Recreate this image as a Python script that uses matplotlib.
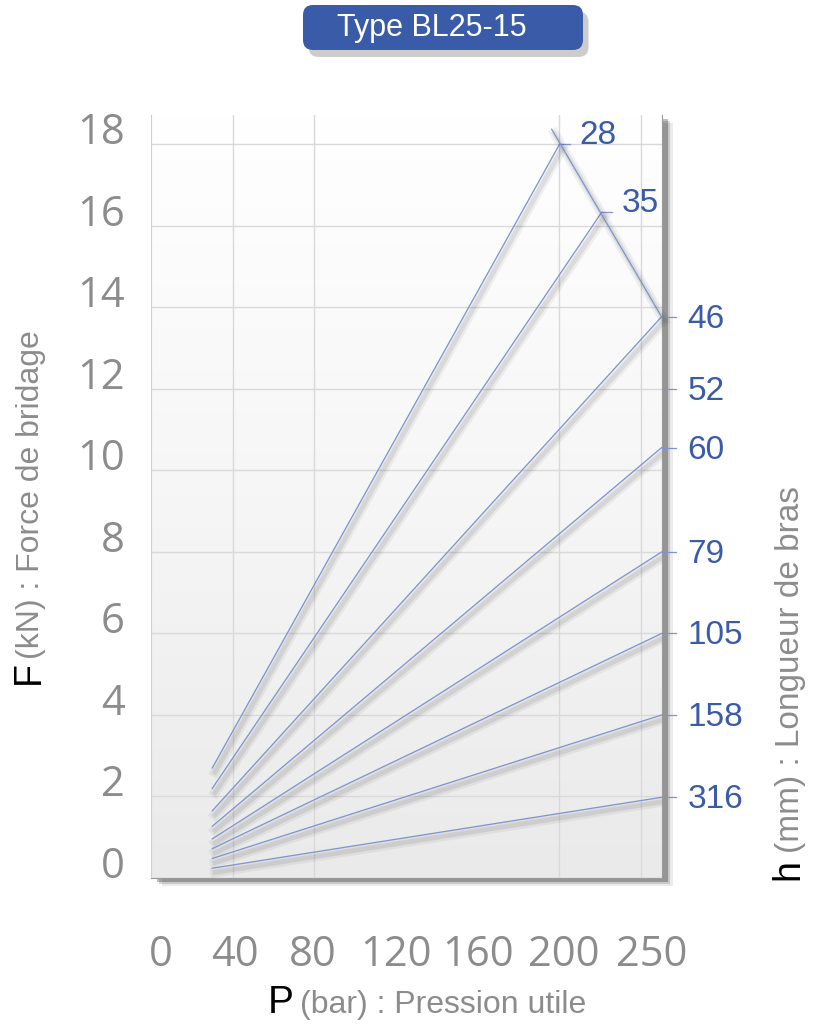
import matplotlib
matplotlib.use('Agg')
import matplotlib.pyplot as plt
import matplotlib.patheffects as pe
import numpy as np
from matplotlib import font_manager
from matplotlib.colors import LinearSegmentedColormap
from matplotlib.patches import FancyBboxPatch

# data
arm_lengths = ['28', '35', '46', '52', '60', '79', '105', '158', '316']
p_start = 30
f_start = [2.70, 2.20, 1.65, None, 1.27, 0.96, 0.72, 0.48, 0.24]
p_end = [200, 220.6, 250, 250, 250, 250, 250, 250, 250]
f_end = [18.0, 16.33, 13.77, 12.0, 10.56, 8.0, 6.0, 4.0, 1.98]
envelope_p = [196.2, 250]
envelope_f = [18.37, 13.77]

x_grid = [40, 80, 120, 160, 200, 240]
y_grid = [2, 4, 6, 8, 10, 12, 14, 16, 18]
xtick_pos = [5, 41, 79, 120, 160, 202, 245]
xtick_labels = ['0', '40', '80', '120', '160', '200', '250']
ytick_vals = [0, 2, 4, 6, 8, 10, 12, 14, 16, 18]

title = 'Type BL25-15'

installed = {f.name for f in font_manager.fontManager.ttflist}
narrow = 'Liberation Sans Narrow' if 'Liberation Sans Narrow' in installed else 'Liberation Sans'
wide = 'Open Sans'

blue = '#3a5ba8'
line_col = '#7f93cf'
grey = '#8c8c8c'

fig = plt.figure(figsize=(8.16, 10.24), dpi=100)
ax = fig.add_axes([151 / 816, 146 / 1024, 511 / 816, 763 / 1024])

# drop shadow of the plot area
ax.patch.set_facecolor('white')
ax.patch.set_path_effects([
    pe.SimplePatchShadow(offset=(8, -6), shadow_rgbFace='#000000', alpha=0.08),
    pe.SimplePatchShadow(offset=(6, -4), shadow_rgbFace='#000000', alpha=0.15),
    pe.SimplePatchShadow(offset=(4, -3), shadow_rgbFace='#000000', alpha=0.25),
    pe.Normal()])

# soft vertical gradient background
cmap = LinearSegmentedColormap.from_list('bg', ['#eaeaea', '#f6f6f6', '#ffffff'])
ax.imshow(np.linspace(0, 1, 256)[:, None], extent=[0, 1, 0, 1], transform=ax.transAxes,
          cmap=cmap, aspect='auto', origin='lower', zorder=0)
ax.set_xlim(0, 250.2)
ax.set_ylim(0, 18.72)

# grid
ax.set_xticks(x_grid, minor=True)
ax.set_yticks(ytick_vals)
ax.grid(which='minor', axis='x', color='#d9d9d9', lw=1)
ax.grid(which='major', axis='y', color='#d9d9d9', lw=1)
ax.set_axisbelow(True)

ax.set_xticks(xtick_pos, xtick_labels)
ax.tick_params(axis='both', which='both', length=0)
ax.tick_params(axis='x', pad=40, labelsize=30, labelcolor=grey)
ax.tick_params(axis='y', pad=19, labelsize=30, labelcolor=grey)
for lab in ax.get_xticklabels() + ax.get_yticklabels():
    lab.set_fontfamily(wide)
for lab in ax.get_yticklabels():
    lab.set_va('baseline')

ax.spines['top'].set_visible(False)
ax.spines['left'].set_color('#cfcfcf')
ax.spines['right'].set_color('#9a9a9a')
ax.spines['bottom'].set_color('#9a9a9a')

shadow = [pe.SimpleLineShadow(offset=(2, -3), shadow_color='k', alpha=0.05, linewidth=7),
          pe.SimpleLineShadow(offset=(2, -3), shadow_color='k', alpha=0.08, linewidth=3.5),
          pe.Normal()]

for name, fs, pe_, fe in zip(arm_lengths, f_start, p_end, f_end):
    if fs is not None:
        ax.plot([p_start, pe_], [fs, fe], color=line_col, lw=0.9, path_effects=shadow, zorder=3)
    inner = pe_ < 250
    stub = 5 if inner else 7.2
    ax.plot([pe_, pe_ + stub], [fe, fe], color=line_col, lw=0.9, clip_on=False, zorder=3)
    dx = 20 if inner else 26
    dy = 0 if inner else -11
    ax.annotate(name, (pe_, fe), xytext=(dx, dy), textcoords='offset pixels',
                ha='left', va='baseline', fontsize=24, color=blue,
                fontfamily=narrow, annotation_clip=False)

ax.plot(envelope_p, envelope_f, color=line_col, lw=0.9, path_effects=shadow, zorder=3, clip_on=False)

# axis titles
H = 1024
W = 816
fig.text(39 / W, 1 - 684 / H, 'F', rotation=90, rotation_mode='anchor', ha='left', va='baseline',
         fontsize=27, color='black', fontfamily=narrow)
fig.text(39 / W, 1 - 659 / H, '(kN) : Force de bridage', rotation=90, rotation_mode='anchor',
         ha='left', va='baseline', fontsize=23, color=grey, fontfamily=narrow)
fig.text(798 / W, 1 - 880 / H, 'h', rotation=90, rotation_mode='anchor', ha='left', va='baseline',
         fontsize=27, color='black', fontfamily=narrow)
fig.text(799 / W, 1 - 853 / H, '(mm) : Longueur de bras', rotation=90, rotation_mode='anchor',
         ha='left', va='baseline', fontsize=24, color=grey, fontfamily=narrow)
fig.text(268 / W, 1 - 1013 / H, 'P', ha='left', va='baseline',
         fontsize=28, color='black', fontfamily=narrow)
fig.text(300 / W, 1 - 1013 / H, '(bar) : Pression utile', ha='left', va='baseline',
         fontsize=23, color=grey, fontfamily=narrow)

# title badge
badge = FancyBboxPatch((3.03, 9.74), 2.8, 0.45, boxstyle='round,pad=0,rounding_size=0.1',
                       transform=fig.dpi_scale_trans, facecolor=blue, edgecolor='none',
                       path_effects=[pe.SimplePatchShadow(offset=(4, -5), shadow_rgbFace='k', alpha=0.2),
                                     pe.Normal()])
fig.patches.append(badge)
fig.text(432 / W, 1 - 28 / H, title, ha='center', va='center', fontsize=22, color='white',
         fontfamily=narrow)

fig.savefig('out.png', dpi=100)
